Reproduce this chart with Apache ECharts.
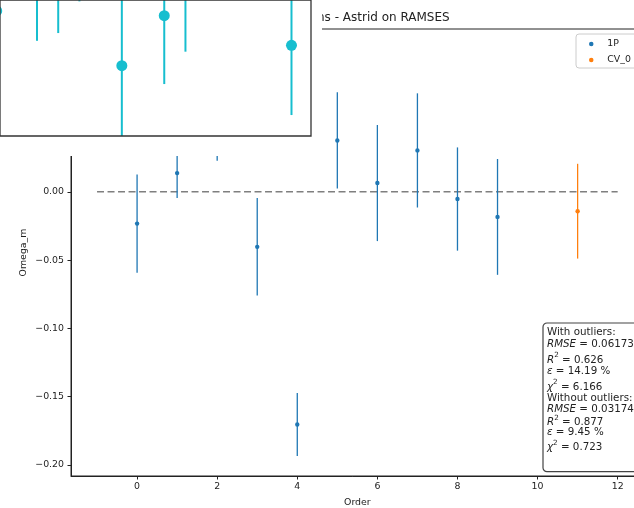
<!DOCTYPE html>
<html>
<head>
<meta charset="utf-8">
<script src="https://cdn.jsdelivr.net/npm/echarts@6/dist/echarts.min.js"></script>
<style>
  html, body { margin: 0; padding: 0; background: #fff; }
  #chart { width: 634px; height: 508px; }
</style>
</head>
<body>
<div id="chart"></div>
<script>
// main panel: residual per order with 1-sigma error bars
const orders1P = [0, 1, 2, 3, 4, 5, 6, 7, 8, 9];
const mean1P = [-0.0233, 0.0137, 0.0635, -0.0403, -0.1704, 0.0376, 0.0064, 0.0303, -0.0053, -0.0184];
const err1P = [0.0359, 0.0183, 0.0408, 0.0357, 0.0231, 0.0352, 0.0425, 0.0418, 0.0378, 0.0424];
const ordersCV = [11];
const meanCV = [-0.0142];
const errCV = [0.0347];
const refLine = [[-1, 0], [12, 0]];
const xTicks = [0, 2, 4, 6, 8, 10, 12];
const yTicks = [-0.20, -0.15, -0.10, -0.05, 0.00, 0.05, 0.10];

// inset panel in the top-left corner (cut off by the crop)
const insetX = [-1.9, 0, 1, 2, 4, 6, 7, 12];
const insetMean = [0.92, 1.10, 1.15, 1.30, 0.517, 0.885, 1.10, 0.667];
const insetErr = [0.12, 0.40, 0.393, 0.31, 0.62, 0.503, 0.48, 0.513];

const statsLines = [
  '{n|With outliers:}',
  '{i|RMSE}{n| = 0.06173}',
  '{sp|\u200b}{ib|R}{sup|2}{nb| = 0.626}',
  '{i|ε}{n| = 14.19 %}',
  '{sp|\u200b}{ib|χ}{sup|2}{nb| = 6.166}',
  '{n|Without outliers:}',
  '{i|RMSE}{n| = 0.03174}',
  '{sp|\u200b}{ib|R}{sup|2}{nb| = 0.877}',
  '{i|ε}{n| = 9.45 %}',
  '{sp|\u200b}{ib|χ}{sup|2}{nb| = 0.723}'
];

const FONT = 'DejaVu Sans';
const INK = '#222';

const zip3 = (a, b, c) => a.map((v, i) => [v, b[i], c[i]]);

function errorBar(color, lineWidth, r) {
  return function (params, api) {
    const x = api.value(0), m = api.value(1), e = api.value(2);
    const top = api.coord([x, m + e]);
    const bot = api.coord([x, m - e]);
    const mid = api.coord([x, m]);
    return {
      type: 'group',
      children: [
        { type: 'line', shape: { x1: top[0], y1: top[1], x2: bot[0], y2: bot[1] },
          style: { stroke: color, lineWidth: lineWidth } },
        { type: 'circle', shape: { cx: mid[0], cy: mid[1], r: r }, style: { fill: color } }
      ]
    };
  };
}

// stats box text: one element per line, centres
const statsRich = {
  n: { fontFamily: FONT, fontSize: 10.3, lineHeight: 12, fill: INK },
  i: { fontFamily: FONT, fontSize: 10.3, lineHeight: 12, fontStyle: 'italic', fill: INK },
  nb: { fontFamily: FONT, fontSize: 10.3, lineHeight: 12, verticalAlign: 'bottom', fill: INK },
  ib: { fontFamily: FONT, fontSize: 10.3, lineHeight: 12, fontStyle: 'italic', verticalAlign: 'bottom', fill: INK },
  sup: { fontFamily: FONT, fontSize: 7.2, lineHeight: 7.5, verticalAlign: 'top', fill: INK },
  sp: { fontSize: 6, lineHeight: 13.5 }
};
const statsCenters = [332.7, 344, 359.3, 371, 386, 398.3, 409.3, 421.7, 432.7, 446.7];
const statsText = statsLines.map((t, k) => {
  const hasSup = t.indexOf('{sup|') >= 0;
  return {
    type: 'text', x: 547, y: statsCenters[k] - (hasSup ? 7.5 : 6), z: 81,
    style: { text: t, textVerticalAlign: 'top', rich: statsRich }
  };
});

const chart = echarts.init(document.getElementById('chart'));

const axisText = { fontFamily: FONT, fontSize: 9.4, color: INK };

chart.setOption({
  animation: false,
  backgroundColor: '#fff',
  grid: [
    { left: 71, top: 29, width: 572.7, height: 447, show: true, outerBoundsMode: 'none',
      borderColor: INK, borderWidth: 1, backgroundColor: 'transparent' },
    { left: 0, top: 0, width: 311, height: 136, show: false, outerBoundsMode: 'none' }
  ],
  xAxis: [
    {
      gridIndex: 0, type: 'value', min: -1.65, max: 12.65,
      name: 'Order', nameLocation: 'middle', nameGap: 22, nameMoveOverlap: false,
      nameTextStyle: axisText,
      axisLine: { show: true, onZero: false, lineStyle: { color: INK, width: 1 } },
      axisTick: { show: true, length: 3.5, customValues: xTicks, lineStyle: { color: INK } },
      axisLabel: Object.assign({ margin: 6, customValues: xTicks }, axisText),
      splitLine: { show: false }
    },
    { gridIndex: 1, type: 'value', min: -1.745, max: 12.92, show: false }
  ],
  yAxis: [
    {
      gridIndex: 0, type: 'value', min: -0.2081, max: 0.1192,
      name: 'Omega_m', nameLocation: 'middle', nameGap: 43, nameMoveOverlap: false,
      nameTextStyle: axisText,
      axisLine: { show: true, onZero: false, lineStyle: { color: INK, width: 1 } },
      axisTick: { show: true, length: 3.5, customValues: yTicks, lineStyle: { color: INK } },
      axisLabel: Object.assign({
        margin: 7, customValues: yTicks,
        formatter: v => v.toFixed(2).replace('-', '\u2212')
      }, axisText),
      splitLine: { show: false }
    },
    { gridIndex: 1, type: 'value', min: 0, max: 1, show: false }
  ],
  legend: {
    left: 576, top: 34, orient: 'vertical',
    padding: [4, 30, 2, 13],
    itemWidth: 22, itemHeight: 4.5, itemGap: 4,
    borderColor: '#ccc', borderWidth: 1, borderRadius: 3,
    backgroundColor: 'rgba(255,255,255,0.8)',
    textStyle: { fontFamily: FONT, fontSize: 9.4, color: INK, lineHeight: 12 },
    data: [{ name: '1P', icon: 'circle' }, { name: 'CV_0', icon: 'circle' }]
  },
  graphic: [
    { type: 'text', x: 357.3, y: 18, z: 1,
      style: { text: 'Predictions - Astrid on RAMSES', fill: INK,
        font: '12px "DejaVu Sans"', textAlign: 'center', textVerticalAlign: 'middle' } },
    { type: 'rect', x: 0, y: 0, z: 50, shape: { width: 322, height: 156 },
      style: { fill: '#fff' } },
    { type: 'rect', x: 0, y: 0, z: 70, shape: { width: 311, height: 136 },
      style: { fill: 'none', stroke: '#333', lineWidth: 1.3 } },
    { type: 'rect', x: 543, y: 323, z: 80, shape: { width: 130, height: 148.7, r: 4 },
      style: { fill: 'rgba(255,255,255,0.85)', stroke: '#444', lineWidth: 1.2 } }
  ].concat(statsText),
  series: [
    {
      type: 'line', xAxisIndex: 0, yAxisIndex: 0, data: refLine,
      symbol: 'none', silent: true, z: 2,
      lineStyle: { color: '#7f7f7f', width: 1.5, type: [7, 3.5] }
    },
    {
      name: '1P', type: 'custom', xAxisIndex: 0, yAxisIndex: 0, z: 3,
      itemStyle: { color: '#1f77b4' },
      data: zip3(orders1P, mean1P, err1P),
      encode: { x: 0, y: 1 },
      renderItem: errorBar('#1f77b4', 1.3, 2.2)
    },
    {
      name: 'CV_0', type: 'custom', xAxisIndex: 0, yAxisIndex: 0, z: 3,
      itemStyle: { color: '#ff7f0e' },
      data: zip3(ordersCV, meanCV, errCV),
      encode: { x: 0, y: 1 },
      renderItem: errorBar('#ff7f0e', 1.3, 2.2)
    },
    {
      name: 'inset', type: 'custom', xAxisIndex: 1, yAxisIndex: 1, z: 60,
      clip: true,
      itemStyle: { color: '#17becf' },
      data: zip3(insetX, insetMean, insetErr),
      encode: { x: 0, y: 1 },
      renderItem: errorBar('#17becf', 2, 5.5)
    }
  ]
});

window.addEventListener('resize', () => chart.resize());
</script>
</body>
</html>
